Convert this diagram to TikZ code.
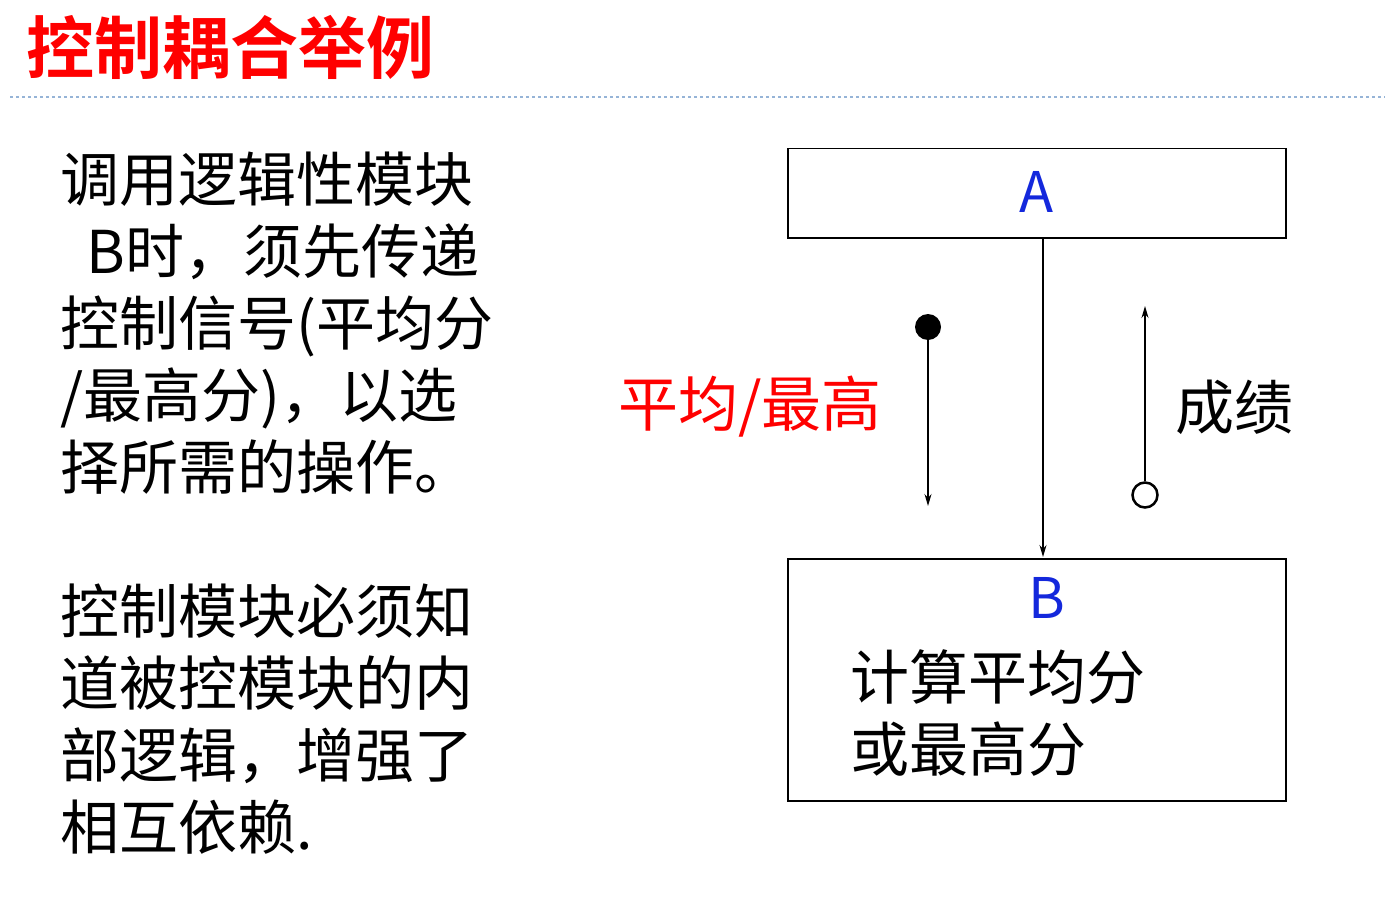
\documentclass[tikz,border=0pt]{standalone}
\usepackage{fontspec}
\setmainfont{Noto Sans CJK SC}
\newfontfamily\cjkb{Noto Sans CJK SC Bold}
\usetikzlibrary{arrows.meta}
\definecolor{dblue}{RGB}{20,40,220}
\definecolor{dashc}{RGB}{150,180,215}
\begin{document}
\begin{tikzpicture}[x=1pt,y=-1pt,
  box/.style={draw,line width=1.5pt,anchor=north west,inner sep=0},
  txt/.style={anchor=west,inner sep=0,font=\fontsize{59}{72}\selectfont},
  arr/.style={line width=1.3pt,-{Stealth[length=12pt,width=7pt]}}]
\useasboundingbox (0,0) rectangle (1388,904);
\node[anchor=west,inner sep=0,text=red,font=\cjkb\fontsize{68}{68}\selectfont] (title) at (26,47) {控制耦合举例};
\draw[dashed,color=dashc,line width=1.2pt] (10,97) coordinate (d1) -- (1385,97) coordinate (d2);
\node[txt,anchor=north west,align=left] (t1) at (60,152) {调用逻辑性模块\\\ \ B时，须先传递\\控制信号(平均分\\/最高分)，以选\\择所需的操作。};
\node[txt,anchor=north west,align=left] (t2) at (60,584) {控制模块必须知\\道被控模块的内\\部逻辑，增强了\\相互依赖.};
\node[box,minimum width=498pt,minimum height=89pt] (A) at (787,148) {};
\node[text=dblue,font=\fontsize{56}{56}\selectfont] (la) at (1037,192) {A};
\node[box,minimum width=498pt,minimum height=242pt] (B) at (787,558) {};
\node[text=dblue,font=\fontsize{56}{56}\selectfont] (lb) at (1047,598) {B};
\node[txt,align=left,font=\fontsize{59}{72}\selectfont] (bt) at (850,713) {计算平均分\\或最高分};
\draw[arr] (1043,237) coordinate (a0) -- (1043,557) coordinate (b0);
\node[circle,fill=black,minimum size=26pt,inner sep=0] (c1) at (928,327) {};
\coordinate (e1) at (928,506);
\draw[arr] (c1) -- (e1);
\node[circle,draw,line width=2.5pt,fill=white,minimum size=25pt,inner sep=0] (c2) at (1145,495) {};
\coordinate (e2) at (1145,306);
\draw[arr] (c2) -- (e2);
\node[txt,text=red,font=\fontsize{60}{60}\selectfont] (l1) at (618,407) {平均/最高};
\node[txt] (l2) at (1175,407) {成绩};
\end{tikzpicture}
\end{document}
